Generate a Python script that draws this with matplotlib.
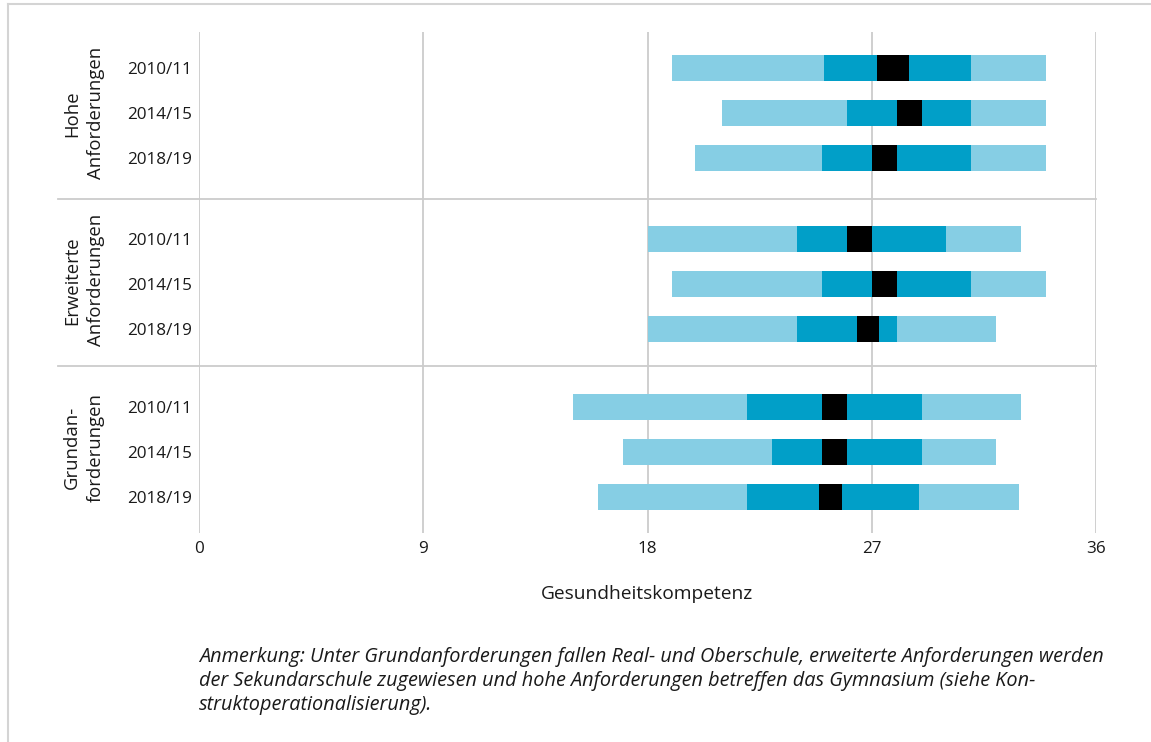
import matplotlib
matplotlib.use("Agg")
import matplotlib.pyplot as plt
from matplotlib.lines import Line2D
import matplotlib.transforms as mtransforms

# ---------------- data ----------------
groups = ["Hohe\nAnforderungen", "Erweiterte\nAnforderungen", "Grundan-\nforderungen"]
years = ["2010/11", "2014/15", "2018/19"]
# per row (top to bottom): 5th pct, 25th pct, CI low, CI high, 75th pct, 95th pct
p05     = [19.0, 21.0, 19.9, 18.0, 19.0, 18.0, 15.0, 17.0, 16.0]
p25     = [25.1, 26.0, 25.0, 24.0, 25.0, 24.0, 22.0, 23.0, 22.0]
ci_low  = [27.2, 28.0, 27.0, 26.0, 27.0, 26.4, 25.0, 25.0, 24.9]
ci_high = [28.5, 29.0, 28.0, 27.0, 28.0, 27.3, 26.0, 26.0, 25.8]
p75     = [31.0, 31.0, 31.0, 30.0, 31.0, 28.0, 29.0, 29.0, 28.9]
p95     = [34.0, 34.0, 34.0, 33.0, 34.0, 32.0, 33.0, 32.0, 32.9]
xticks = [0, 9, 18, 27, 36]
xlabel = "Gesundheitskompetenz"
note = ("Anmerkung: Unter Grundanforderungen fallen Real- und Oberschule, erweiterte Anforderungen werden\n"
        "der Sekundarschule zugewiesen und hohe Anforderungen betreffen das Gymnasium (siehe Kon-\n"
        "struktoperationalisierung).")

# ---------------- style ----------------
light = "#86CEE4"
dark = "#019FC8"
black = "#000000"
grid_c = "#cccccc"
txt_c = "#1a1a1a"
FONT = ["Open Sans", "DejaVu Sans"]
plt.rcParams["font.family"] = FONT

W, H, DPI = 1151, 742, 100
fig = plt.figure(figsize=(W / DPI, H / DPI), dpi=DPI)
fig.patch.set_facecolor("white")

ax_l, ax_r, ax_t, ax_b = 199.0, 1096.0, 32.0, 533.0
ax = fig.add_axes([ax_l / W, 1 - ax_b / H, (ax_r - ax_l) / W, (ax_b - ax_t) / H])

G = 167.0 / 45.0           # group height in row units
row_offs = [0.80, 0.89, 0.91]
bar_h = 0.59
ypos = []
for gi in range(3):
    for ri in range(3):
        ypos.append(gi * G + row_offs[gi] + ri)

segs = [(p05, p25, light), (p25, ci_low, dark), (ci_low, ci_high, black),
        (ci_high, p75, dark), (p75, p95, light)]
for lo, hi, col in segs:
    ax.barh(ypos, [h - l for l, h in zip(lo, hi)], left=lo, height=bar_h,
            color=col, edgecolor="none", zorder=3)

ax.set_xlim(0, 36)
ax.set_ylim(3 * G, 0)
for s in ax.spines.values():
    s.set_visible(False)
for xv in xticks:
    ax.axvline(xv, color=grid_c, lw=1.3, zorder=1)

ax.set_xticks(xticks)
ax.set_xticklabels([str(v) for v in xticks])
ax.set_yticks(ypos)
ax.set_yticklabels(years * 3)
ax.tick_params(axis="both", length=0, labelsize=12.3, colors=txt_c)
ax.tick_params(axis="x", pad=6)
ax.tick_params(axis="y", pad=5)

# group separators extending to the left
trans = mtransforms.blended_transform_factory(ax.transAxes, ax.transData)
x_left = (58 - ax_l) / (ax_r - ax_l)
for gi in (1, 2):
    ax.plot([x_left, 1], [gi * G, gi * G], color=grid_c, lw=1.3,
            transform=trans, clip_on=False, zorder=1)

# group labels
x_grp = (84 - ax_l) / (ax_r - ax_l)
for gi, g in enumerate(groups):
    ax.text(x_grp, gi * G + G / 2 - 0.05, g, rotation=90, ha="center", va="center",
            transform=trans, fontsize=13.3, color=txt_c, linespacing=1.45,
            multialignment="center")

fig.text(647 / W, 1 - 594 / H, xlabel, ha="center", va="center", fontsize=13.8, color=txt_c)
fig.text(199 / W, 1 - 681 / H, note, ha="left", va="center", fontsize=14.3,
         style="italic", color=txt_c, linespacing=1.27)

# outer frame (top and left)
fig.add_artist(Line2D([8 / W, 1], [1 - 4 / H, 1 - 4 / H], color="#d4d4d4", lw=1.5,
                      transform=fig.transFigure))
fig.add_artist(Line2D([8 / W, 8 / W], [0, 1 - 4 / H], color="#d4d4d4", lw=1.5,
                      transform=fig.transFigure))

fig.savefig("out.png", dpi=DPI, facecolor="white")
